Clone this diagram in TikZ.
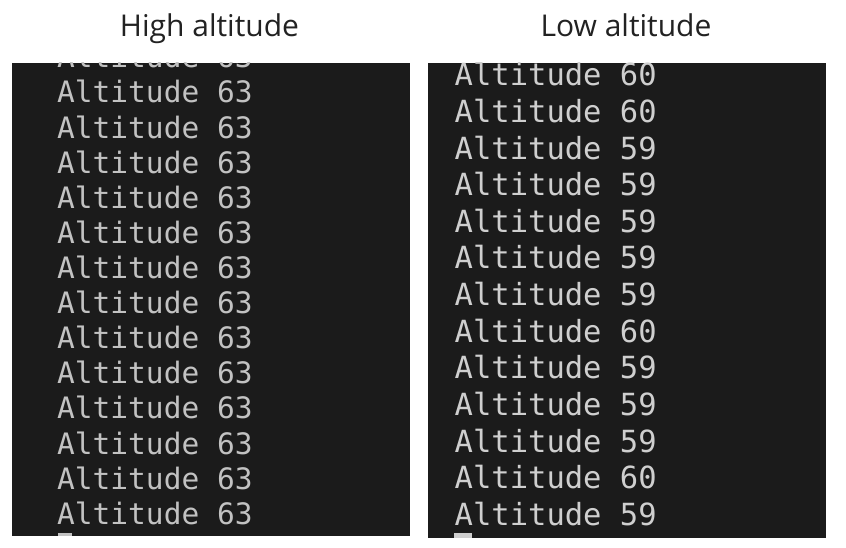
\documentclass[tikz,border=0pt]{standalone}
\usepackage{fontspec}
\setmainfont{Open Sans}
\newfontfamily\termfont{DejaVu Sans Mono}
\definecolor{termbg}{HTML}{1B1B1B}
\definecolor{termfgA}{HTML}{C2C2C2}
\definecolor{termfgB}{HTML}{CFCFCF}
\definecolor{titlefg}{HTML}{222222}
\begin{document}
\begin{tikzpicture}[x=1pt,y=-1pt,
  paneltitle/.style={inner sep=0pt,anchor=base,text=titlefg,font=\fontsize{30}{30}\selectfont},
  panel/.style={fill=termbg,draw=none},
  termline/.style={inner sep=0pt,anchor=base west,font=\termfont\fontsize{29.5}{29.5}\selectfont},
  cursorbox/.style={fill=#1,draw=none}]
\useasboundingbox[fill=white] (0,0) rectangle (846,548);
% titles
\node[paneltitle] (titleL) at (209.5,37) {High altitude};
\node[paneltitle] (titleR) at (626,37) {Low altitude};
% left panel
\fill[panel] (12,63) rectangle (410,536);
\begin{scope}
\clip (12,63) rectangle (410,536);
\foreach \k in {-1,...,12}{
  \node[termline,text=termfgA] (L\k) at (57,{103+35.1*\k}) {Altitude 63};
}
\fill[cursorbox=termfgA] (58,533) rectangle (72,536);
\end{scope}
% right panel
\fill[panel] (428,63) rectangle (826,538);
\begin{scope}
\clip (428,63) rectangle (826,538);
\foreach \v [count=\k from 0] in {60,60,59,59,59,59,59,60,59,59,59,60,59}{
  \node[termline,text=termfgB,font=\termfont\fontsize{30.5}{30.5}\selectfont] (R\k) at (454.5,{86+36.6*\k}) {Altitude \v};
}
\fill[cursorbox=termfgB] (454,533) rectangle (472,538);
\end{scope}
\end{tikzpicture}
\end{document}
